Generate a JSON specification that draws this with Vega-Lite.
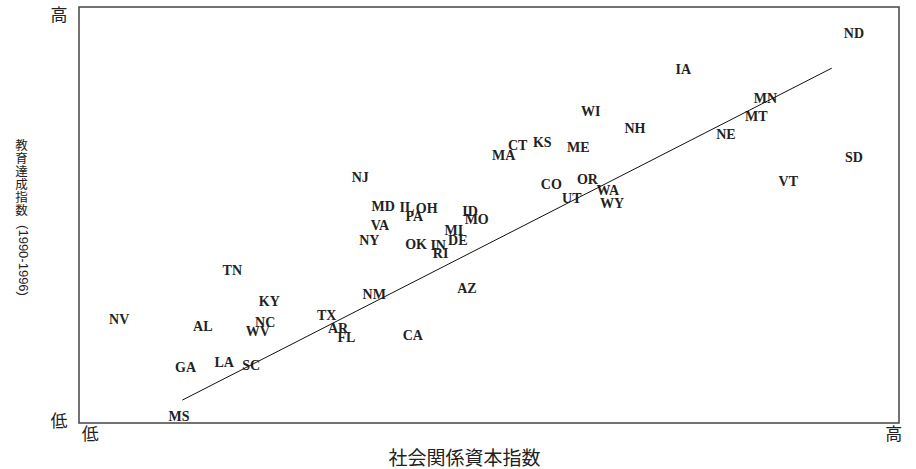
{
  "$schema": "https://vega.github.io/schema/vega-lite/v6.json",
  "width": 820,
  "height": 416,
  "autosize": "none",
  "padding": {"left": 79, "top": 7, "right": 17, "bottom": 46},
  "background": "white",
  "config": {"view": {"stroke": "#444", "strokeWidth": 1.5}, "font": "Noto Sans CJK JP"},
  "layer": [
    {
      "data": {"values": [
        {"state": "ND", "x": 94.5, "y": 93.5},
        {"state": "IA", "x": 73.7, "y": 84.9},
        {"state": "MN", "x": 83.7, "y": 77.9},
        {"state": "MT", "x": 82.6, "y": 73.6},
        {"state": "NE", "x": 78.9, "y": 69.2},
        {"state": "SD", "x": 94.5, "y": 63.7},
        {"state": "VT", "x": 86.5, "y": 57.9},
        {"state": "WI", "x": 62.4, "y": 74.8},
        {"state": "NH", "x": 67.8, "y": 70.7},
        {"state": "CT", "x": 53.5, "y": 66.6},
        {"state": "KS", "x": 56.5, "y": 67.3},
        {"state": "ME", "x": 60.9, "y": 66.1},
        {"state": "MA", "x": 51.8, "y": 64.2},
        {"state": "CO", "x": 57.6, "y": 57.2},
        {"state": "OR", "x": 62.0, "y": 58.4},
        {"state": "WA", "x": 64.5, "y": 55.8},
        {"state": "UT", "x": 60.1, "y": 53.8},
        {"state": "WY", "x": 65.0, "y": 52.6},
        {"state": "NJ", "x": 34.3, "y": 58.9},
        {"state": "MD", "x": 37.1, "y": 51.9},
        {"state": "IL", "x": 40.0, "y": 51.7},
        {"state": "OH", "x": 42.4, "y": 51.4},
        {"state": "PA", "x": 40.9, "y": 49.5},
        {"state": "ID", "x": 47.7, "y": 50.7},
        {"state": "MO", "x": 48.5, "y": 48.8},
        {"state": "VA", "x": 36.7, "y": 47.4},
        {"state": "MI", "x": 45.7, "y": 46.2},
        {"state": "NY", "x": 35.4, "y": 43.8},
        {"state": "OK", "x": 41.1, "y": 42.8},
        {"state": "IN", "x": 43.8, "y": 42.5},
        {"state": "DE", "x": 46.2, "y": 43.8},
        {"state": "RI", "x": 44.1, "y": 40.6},
        {"state": "AZ", "x": 47.3, "y": 32.2},
        {"state": "NM", "x": 36.0, "y": 30.8},
        {"state": "TN", "x": 18.7, "y": 36.5},
        {"state": "KY", "x": 23.2, "y": 29.1},
        {"state": "NV", "x": 4.9, "y": 24.8},
        {"state": "AL", "x": 15.1, "y": 23.1},
        {"state": "NC", "x": 22.7, "y": 24.0},
        {"state": "WV", "x": 21.8, "y": 21.9},
        {"state": "TX", "x": 30.2, "y": 25.7},
        {"state": "AR", "x": 31.6, "y": 22.6},
        {"state": "FL", "x": 32.6, "y": 20.4},
        {"state": "CA", "x": 40.7, "y": 20.9},
        {"state": "GA", "x": 13.0, "y": 13.2},
        {"state": "LA", "x": 17.7, "y": 14.4},
        {"state": "SC", "x": 21.0, "y": 13.7},
        {"state": "MS", "x": 12.2, "y": 1.4}
      ]},
      "mark": {"type": "text", "font": "Liberation Serif", "fontWeight": "bold", "fontSize": 14, "align": "center", "baseline": "middle", "color": "#222"},
      "encoding": {
        "x": {"field": "x", "type": "quantitative", "scale": {"domain": [0, 100], "nice": false, "zero": false},
          "axis": {"values": [1.3, 99.3], "labelExpr": "datum.value < 50 ? '低' : '高'", "ticks": false, "domain": false, "grid": false,
            "labelFlush": false, "labelOverlap": false, "labelBound": false,
            "labelFont": "Noto Sans CJK JP", "labelFontSize": 17, "labelColor": "#222", "labelBaseline": "middle", "labelPadding": 11,
            "title": "社会関係資本指数", "titleFont": "Noto Sans CJK JP", "titleFontSize": 19, "titleFontWeight": "normal", "titleColor": "#222",
            "titleX": 385, "titleY": 35, "titleBaseline": "middle", "titleAlign": "center"}},
        "y": {"field": "y", "type": "quantitative", "scale": {"domain": [0, 100], "nice": false, "zero": false},
          "axis": {"values": [0.3, 98], "labelExpr": "datum.value < 50 ? '低' : '高'", "ticks": false, "domain": false, "grid": false,
            "labelFlush": false, "labelOverlap": false, "labelBound": false,
            "labelFont": "Noto Sans CJK JP", "labelFontSize": 17, "labelColor": "#222", "labelBaseline": "middle", "labelAlign": "right", "labelPadding": 12,
            "title": ["教", "育", "達", "成", "指", "数"], "titleFont": "Noto Sans CJK JP", "titleFontSize": 12.5, "titleFontWeight": "normal", "titleColor": "#222",
            "titleAngle": 0, "titleLineHeight": 13, "titleX": -58, "titleY": 132, "titleBaseline": "top", "titleAlign": "center"}},
        "text": {"field": "state", "type": "nominal"}
      }
    },
    {
      "data": {"values": [{"x": 12.6, "y": 5.5}, {"x": 91.8, "y": 85.3}]},
      "mark": {"type": "line", "color": "#111", "strokeWidth": 1},
      "encoding": {
        "x": {"field": "x", "type": "quantitative"},
        "y": {"field": "y", "type": "quantitative",
          "axis": {"orient": "left", "labels": false, "ticks": false, "domain": false, "grid": false,
            "title": "(1990-1996)", "titleFont": "Liberation Sans", "titleFontSize": 13, "titleFontWeight": "normal", "titleColor": "#222",
            "titleAngle": 90, "titleX": -57, "titleY": 253, "titleBaseline": "middle", "titleAlign": "center"}}
      }
    }
  ],
  "resolve": {"axis": {"y": "independent"}}
}
